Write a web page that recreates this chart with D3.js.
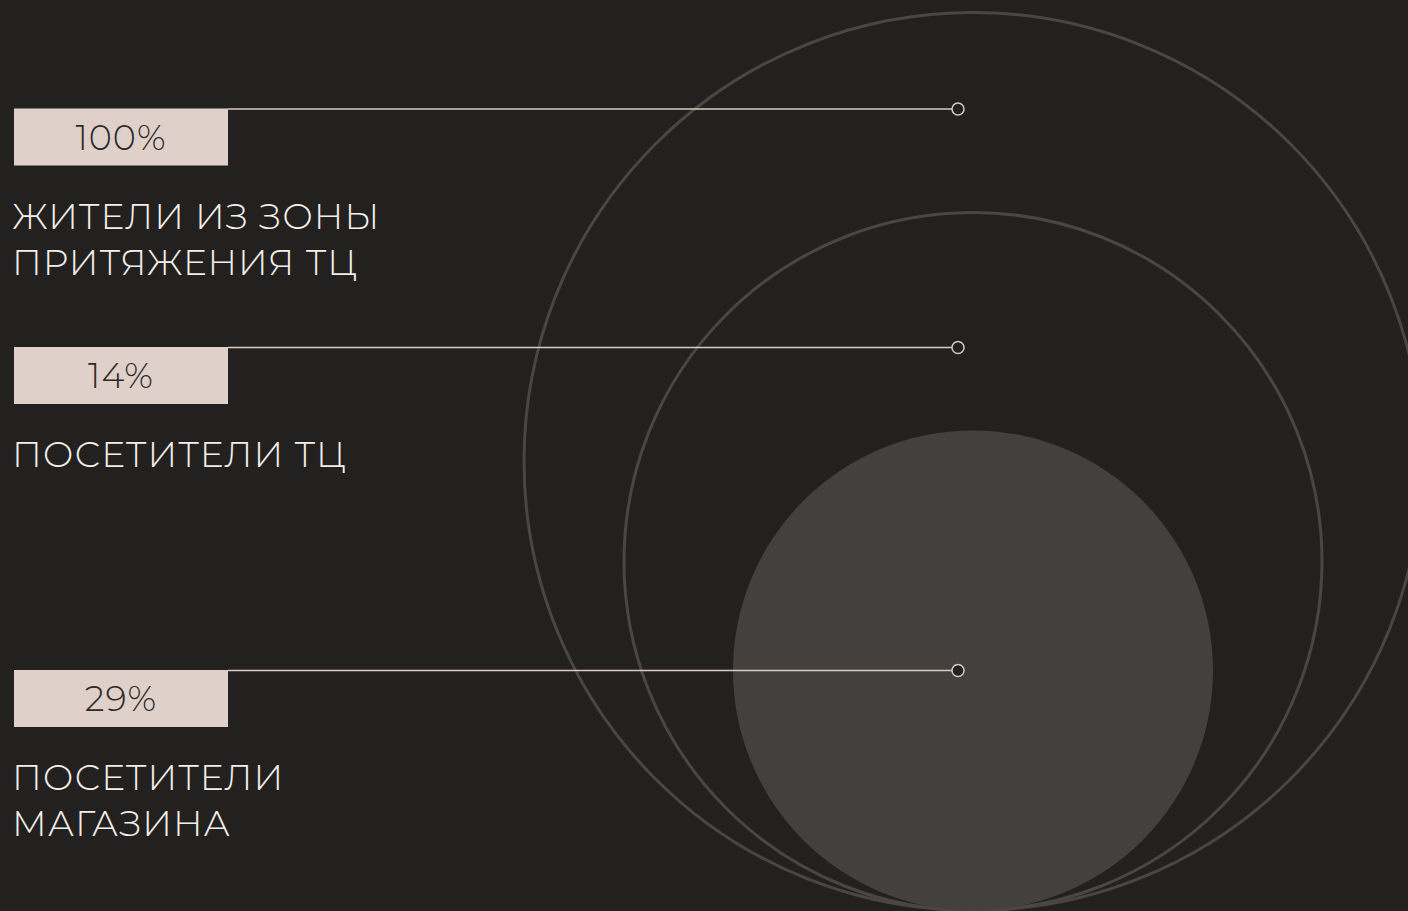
<!DOCTYPE html>
<html>
<head>
  <meta charset="utf-8">
  <title>Зона притяжения ТЦ</title>
  <script src="https://d3js.org/d3.v7.min.js"></script>
  <style>
    html, body { margin: 0; padding: 0; background: #232120; overflow: hidden; }
    svg { display: block; }
    text { font-family: Montserrat, Inter, "Open Sans", sans-serif; font-weight: 300; }
  </style>
</head>
<body>
<div id="chart"></div>
<script>
  // data
  var levels = ["residents", "mall", "store"];
  var percents = ["100%", "14%", "29%"];
  var labels = [
    ["ЖИТЕЛИ ИЗ ЗОНЫ", "ПРИТЯЖЕНИЯ ТЦ"],
    ["ПОСЕТИТЕЛИ ТЦ"],
    ["ПОСЕТИТЕЛИ", "МАГАЗИНА"]
  ];

  var width = 1408, height = 911;

  var svg = d3.select("#chart").append("svg")
    .attr("width", width)
    .attr("height", height);

  svg.append("rect")
    .attr("width", width)
    .attr("height", height)
    .attr("fill", "#232120");

  // circle sizes by nesting level, all sitting on the same bottom line
  var radius = d3.scaleOrdinal().domain(levels).range([449, 349, 240]);
  var baseY = 910.5, cx = 973;

  svg.selectAll("circle.ring")
    .data(levels)
    .enter().append("circle")
    .attr("class", "ring")
    .attr("cx", cx)
    .attr("cy", function(d) { return baseY - radius(d); })
    .attr("r", function(d) { return radius(d); })
    .attr("fill", function(d, i) { return i == 2 ? "#43403d" : "none"; })
    .attr("stroke", function(d, i) { return i == 2 ? "none" : "#4a4644"; })
    .attr("stroke-width", 3);

  // rows for the callouts
  var rowY = d3.scaleOrdinal().domain(levels).range([108.5, 347, 670]);
  var boxX = 14, boxW = 214, boxH = 57, markerX = 958;

  var row = svg.selectAll("g.row")
    .data(levels)
    .enter().append("g")
    .attr("class", "row")
    .attr("transform", function(d) { return "translate(0," + rowY(d) + ")"; });

  row.append("line")
    .attr("x1", boxX + boxW)
    .attr("x2", markerX - 6)
    .attr("y1", 0.5)
    .attr("y2", 0.5)
    .attr("stroke", "#d9c9c3")
    .attr("stroke-width", 1.5);

  row.append("circle")
    .attr("cx", markerX)
    .attr("cy", 0.5)
    .attr("r", 6)
    .attr("fill", "#232120")
    .attr("stroke", "#d9c9c3")
    .attr("stroke-width", 1.5);

  row.append("rect")
    .attr("x", boxX)
    .attr("y", 0)
    .attr("width", boxW)
    .attr("height", boxH)
    .attr("fill", "#dfd1ca");

  row.append("text")
    .attr("x", boxX + boxW / 2)
    .attr("y", 41)
    .attr("text-anchor", "middle")
    .attr("font-size", 35)
    .attr("letter-spacing", 1)
    .attr("fill", "#2d2a28")
    .text(function(d, i) { return percents[i]; });

  row.each(function(d, i) {
    var g = d3.select(this);
    labels[i].forEach(function(line, k) {
      g.append("text")
        .attr("x", boxX - 2)
        .attr("y", boxH + 63 + k * 46)
        .attr("font-size", 36)
        .attr("letter-spacing", 1)
        .attr("fill", "#f4efeb")
        .text(line);
    });
  });
</script>
</body>
</html>
